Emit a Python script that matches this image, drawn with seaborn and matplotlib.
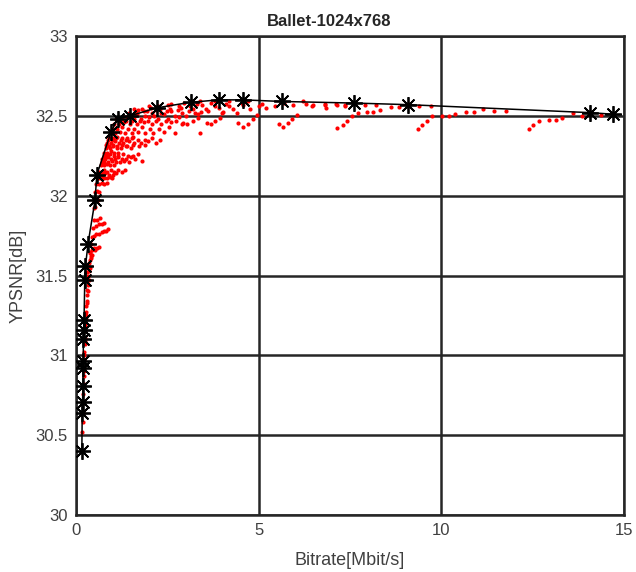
import pandas as pd
import seaborn as sns
import matplotlib.pyplot as plt

# Pareto front (black line with asterisks)
front_x = [0.16, 0.17, 0.18, 0.19, 0.19, 0.20, 0.20, 0.21, 0.22, 0.24, 0.26, 0.33, 0.52, 0.57,
           0.96, 1.14, 1.48, 2.21, 3.14, 3.91, 4.58, 5.63, 7.62, 9.09, 14.07, 14.70]
front_y = [30.40, 30.64, 30.71, 30.81, 30.92, 30.965, 31.10, 31.16, 31.22, 31.47, 31.56, 31.70,
           31.97, 32.13, 32.40, 32.48, 32.50, 32.55, 32.585, 32.60, 32.60, 32.59, 32.58, 32.57,
           32.52, 32.51]

# red points: steep part (low bitrate)
steep_x = [0.17, 0.18, 0.19, 0.19, 0.20, 0.21, 0.21, 0.22, 0.22, 0.23, 0.24, 0.25, 0.25, 0.26,
           0.27, 0.28, 0.28, 0.29, 0.30, 0.31, 0.32, 0.33, 0.34, 0.35, 0.37, 0.36, 0.38, 0.40,
           0.42, 0.45, 0.39, 0.43, 0.48, 0.52, 0.57, 0.62,
           0.44, 0.50, 0.56, 0.63, 0.70, 0.76, 0.82, 0.88,
           0.47, 0.55, 0.62, 0.70, 0.78,
           0.50, 0.58, 0.66,
           0.21, 0.23, 0.24, 0.26, 0.28, 0.30, 0.33, 0.36, 0.30, 0.34, 0.38, 0.42]
steep_y = [30.52, 30.58, 30.64, 30.70, 30.76, 30.82, 30.87, 30.92, 30.97, 31.02, 31.07, 31.11,
           31.15, 31.19, 31.23, 31.27, 31.31, 31.34, 31.38, 31.41, 31.44, 31.47, 31.50, 31.53,
           31.55, 31.58, 31.60, 31.61, 31.62, 31.63, 31.65, 31.66, 31.67, 31.66, 31.67, 31.68,
           31.74, 31.75, 31.76, 31.76, 31.77, 31.78, 31.78, 31.79,
           31.80, 31.81, 31.82, 31.82, 31.83,
           31.85, 31.85, 31.86,
           30.90, 31.00, 31.09, 31.17, 31.25, 31.33, 31.40, 31.47, 31.52, 31.56, 31.64, 31.70]

# red points: knee
knee_x = [0.48, 0.52,
          0.50, 0.55, 0.60,
          0.52, 0.58, 0.64,
          0.55, 0.62, 0.70, 0.78, 0.86,
          0.60, 0.66, 0.72, 0.78, 0.85, 0.92, 0.98,
          0.62, 0.70, 0.78, 0.86, 0.95, 1.05, 1.15, 1.25, 1.34,
          0.68, 0.76, 0.85, 0.94, 1.04,
          0.72, 0.80, 0.88, 0.97, 1.06, 1.16, 1.27, 1.38, 1.50, 1.62, 1.80,
          0.78, 0.86, 0.95, 1.05, 1.15,
          0.82, 0.92, 1.02, 1.12, 1.24, 1.36, 1.50,
          0.86, 0.96, 1.07, 1.18, 1.30, 1.44, 1.60, 1.78, 1.98, 2.20,
          0.90, 1.00, 1.12, 1.25, 1.40, 1.56,
          0.95, 1.06, 1.20, 1.35, 1.52, 1.70, 1.90, 2.12, 2.40, 2.70]
knee_y = [31.92, 31.93,
          31.97, 31.98, 31.97,
          32.02, 32.03, 32.02,
          32.07, 32.07, 32.08, 32.07, 32.08,
          32.11, 32.11, 32.12, 32.11, 32.11, 32.12, 32.11,
          32.15, 32.15, 32.16, 32.15, 32.16, 32.15, 32.16, 32.15, 32.16,
          32.19, 32.19, 32.20, 32.19, 32.19,
          32.23, 32.23, 32.24, 32.23, 32.23, 32.24, 32.23, 32.23, 32.24, 32.23, 32.22,
          32.27, 32.27, 32.28, 32.27, 32.27,
          32.30, 32.30, 32.31, 32.30, 32.30, 32.31, 32.30,
          32.33, 32.33, 32.34, 32.33, 32.33, 32.34, 32.33, 32.33, 32.34, 32.33,
          32.36, 32.36, 32.37, 32.36, 32.36, 32.37,
          32.39, 32.39, 32.40, 32.39, 32.39, 32.40, 32.39, 32.39, 32.40, 32.39]

# red points: extra knee rows in between
knee2_x = [0.64, 0.72, 0.80, 0.90, 1.00, 1.10,
           0.70, 0.78, 0.88, 0.98, 1.09, 1.20, 1.32, 1.45,
           0.76, 0.84, 0.94, 1.04, 1.16, 1.28, 1.42, 1.56, 1.70,
           0.82, 0.91, 1.01, 1.13, 1.26, 1.40, 1.55, 1.72, 1.90,
           0.88, 0.98, 1.10, 1.23, 1.37, 1.53, 1.70, 1.88, 2.08, 2.30]
knee2_y = [32.13, 32.13, 32.14, 32.13, 32.13, 32.14,
           32.21, 32.21, 32.21, 32.22, 32.21, 32.21, 32.22, 32.21,
           32.25, 32.25, 32.26, 32.25, 32.25, 32.26, 32.25, 32.25, 32.26,
           32.32, 32.31, 32.32, 32.31, 32.32, 32.31, 32.32, 32.31, 32.32,
           32.35, 32.35, 32.36, 32.35, 32.35, 32.36, 32.35, 32.35, 32.36, 32.35]

# red points: dense band just under the front
band_x = [1.00, 1.12, 1.26, 1.42, 1.60, 1.80, 2.02, 2.26, 2.55,
          1.05, 1.18, 1.32, 1.48, 1.66, 1.86, 2.08, 2.32, 2.60, 2.90,
          1.10, 1.25, 1.40, 1.58, 1.78, 2.00, 2.25, 2.52, 2.82,
          1.30, 1.48, 1.68, 1.90, 2.14, 2.40, 2.70, 3.00, 3.35,
          1.45, 1.65, 1.85, 2.08, 2.32, 2.60, 2.90, 3.25, 3.60, 4.00, 4.40,
          1.60, 1.82, 2.05, 2.30, 2.58, 2.88, 3.20, 3.55, 3.92, 4.30, 4.75, 5.20,
          2.00, 2.25, 2.52, 2.82, 3.12, 3.45, 3.80, 4.18, 4.58, 5.00, 5.45, 5.95, 6.45,
          2.60, 2.95, 3.30, 3.70, 4.10, 4.55, 5.10, 5.70, 6.30,
          3.40, 3.80, 4.20, 4.70, 6.21, 6.49, 6.82, 7.14, 7.36,
          1.20, 1.36, 1.54, 1.74, 1.96, 2.20, 2.46, 2.74,
          1.70, 1.95, 2.20, 2.48, 2.78, 3.10]
band_y = [32.42, 32.42, 32.43, 32.42, 32.42, 32.43, 32.42, 32.42, 32.43,
          32.45, 32.45, 32.46, 32.45, 32.45, 32.46, 32.45, 32.45, 32.46, 32.45,
          32.48, 32.48, 32.49, 32.48, 32.48, 32.49, 32.48, 32.48, 32.49,
          32.50, 32.50, 32.51, 32.50, 32.50, 32.51, 32.50, 32.50, 32.51,
          32.52, 32.52, 32.53, 32.52, 32.52, 32.53, 32.52, 32.52, 32.53, 32.52, 32.52,
          32.54, 32.54, 32.55, 32.54, 32.54, 32.55, 32.54, 32.54, 32.55, 32.54, 32.54, 32.55,
          32.56, 32.56, 32.57, 32.56, 32.56, 32.57, 32.56, 32.56, 32.57, 32.56, 32.56, 32.57, 32.56,
          32.575, 32.58, 32.575, 32.58, 32.575, 32.58, 32.575, 32.58, 32.575,
          32.59, 32.59, 32.59, 32.59, 32.59, 32.57, 32.57, 32.57, 32.565,
          32.465, 32.47, 32.465, 32.47, 32.465, 32.47, 32.465, 32.47,
          32.535, 32.53, 32.535, 32.53, 32.535, 32.53]

# red points: tails at higher bitrate
tail_x = [2.94, 3.05, 3.21, 3.33, 3.41,
          3.58, 3.69, 3.81, 3.94, 4.03,
          4.44, 4.56, 4.72, 4.84, 4.96,
          5.56, 5.67, 5.80, 5.90, 6.06,
          3.40,
          6.81, 6.84, 7.12, 7.37, 7.71, 7.91, 7.96, 8.14, 8.21, 8.33, 8.62, 8.85, 9.39, 9.71,
          7.15, 7.32, 7.43, 7.55,
          9.36, 9.48, 9.60, 9.75, 10.02, 10.20, 10.38,
          10.68, 10.90, 11.15, 11.45, 11.76,
          12.40, 12.52, 12.68, 12.94, 13.13, 13.31, 13.61, 13.84, 14.38]
tail_y = [32.457, 32.447, 32.468, 32.488, 32.522,
          32.457, 32.447, 32.468, 32.488, 32.522,
          32.457, 32.43, 32.45, 32.478, 32.505,
          32.447, 32.432, 32.453, 32.478, 32.505,
          32.39,
          32.574, 32.547, 32.574, 32.564, 32.52, 32.568, 32.522, 32.522, 32.568, 32.537, 32.554,
          32.554, 32.564, 32.562,
          32.422, 32.445, 32.468, 32.497,
          32.418, 32.44, 32.468, 32.497, 32.50, 32.50, 32.51,
          32.526, 32.526, 32.54, 32.53, 32.53,
          32.416, 32.44, 32.47, 32.475, 32.475, 32.486, 32.516, 32.50, 32.507]

red = pd.DataFrame({
    "x": steep_x + knee_x + knee2_x + band_x + tail_x,
    "y": steep_y + knee_y + knee2_y + band_y + tail_y,
})
front = pd.DataFrame({"x": front_x, "y": front_y})

sns.set_theme(style="white")
plt.rcParams['font.family'] = ['Liberation Sans', 'DejaVu Sans']

fig = plt.figure(figsize=(6.36, 5.72), dpi=100)
ax = fig.add_axes([76 / 636, 1 - 515 / 572, 548 / 636, 479 / 572])

sns.scatterplot(data=red, x="x", y="y", color="#ff0000", s=9, linewidth=0, ax=ax, zorder=3)
sns.lineplot(data=front, x="x", y="y", color="black", lw=1.1, sort=False, estimator=None,
             marker=(8, 2, 0), markersize=12, markeredgewidth=1.3, markeredgecolor="black",
             ax=ax, zorder=4)

ax.set_xlim(0, 15)
ax.set_ylim(30, 33)
ax.set_xticks([0, 5, 10, 15])
ax.set_yticks([30, 30.5, 31, 31.5, 32, 32.5, 33])
ax.set_yticklabels(["30", "30.5", "31", "31.5", "32", "32.5", "33"])
ax.grid(True, color="#262626", lw=1.8)
ax.set_axisbelow(True)
for s in ax.spines.values():
    s.set_color("#262626")
    s.set_linewidth(1.8)
ax.tick_params(length=0, labelsize=12, labelcolor="#404040", pad=6)

ax.set_title("Ballet-1024x768", fontsize=12, fontweight="bold", pad=7, x=0.4617)
ax.set_xlabel("Bitrate[Mbit/s]", fontsize=13, color="#404040", labelpad=10)
ax.set_ylabel("YPSNR[dB]", fontsize=13, color="#404040", labelpad=6)

plt.savefig("out.png", dpi=100)
